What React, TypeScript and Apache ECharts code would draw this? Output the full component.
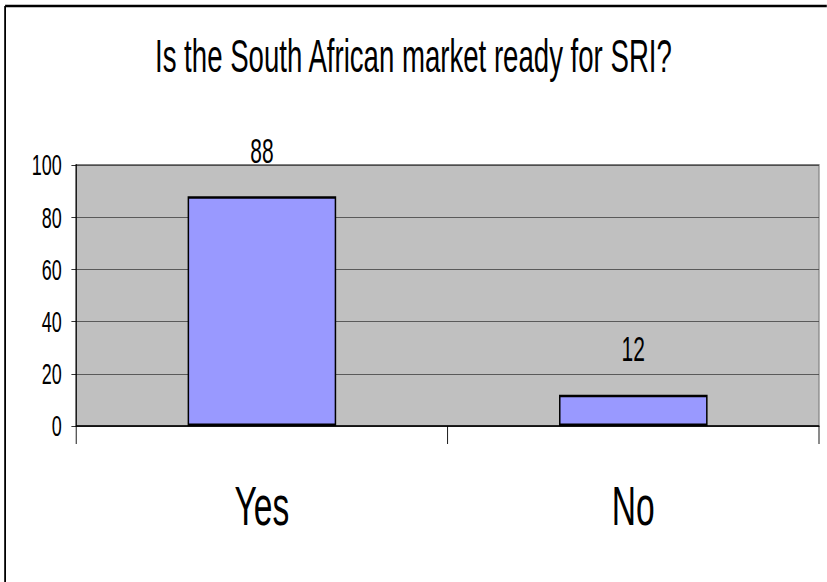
import React, { useEffect, useRef } from "react";
import * as echarts from "echarts";

const titleText = "Is the South African market ready for SRI?";
const categories = ["Yes", "No"];
const values = [88, 12];
const yMin = 0;
const yMax = 100;
const yInterval = 20;

const SX = 0.6; // horizontal squash of the reference picture
const W = 827;
const H = 582;
const FONT = "Liberation Sans, Arial, sans-serif";

export default function App() {
  const ref = useRef<HTMLDivElement | null>(null);

  useEffect(() => {
    document.body.style.margin = "0";
    if (!ref.current) return;
    const chart = echarts.init(ref.current, undefined, { renderer: "svg" });
    chart.setOption({
      animation: false,
      backgroundColor: "#ffffff",
      title: {
        text: titleText,
        left: "center",
        top: 28,
        textStyle: { fontFamily: FONT, fontSize: 46, fontWeight: "normal", color: "#000" },
      },
      graphic: [
        {
          type: "line",
          shape: { x1: 8.5, y1: 6, x2: 1600, y2: 6 },
          style: { stroke: "#000", lineWidth: 2.5 },
          silent: true,
        },
        {
          type: "line",
          shape: { x1: 8.5, y1: 6, x2: 8.5, y2: 700 },
          style: { stroke: "#000", lineWidth: 3 },
          silent: true,
        },
      ],
      grid: {
        left: 127,
        right: 13,
        top: 165,
        bottom: 156,
        show: true,
        backgroundColor: "#C0C0C0",
        borderColor: "#808080",
        borderWidth: 2,
      },
      xAxis: {
        type: "category",
        data: categories,
        boundaryGap: true,
        axisLine: { show: true, lineStyle: { color: "#000", width: 1.5 } },
        axisTick: { show: true, length: 18, lineStyle: { color: "#000", width: 1.5 } },
        axisLabel: {
          margin: 52,
          fontFamily: FONT,
          fontSize: 56,
          color: "#000",
        },
        splitLine: { show: false },
      },
      yAxis: {
        type: "value",
        min: yMin,
        max: yMax,
        interval: yInterval,
        axisLine: { show: true, lineStyle: { color: "#000", width: 2 } },
        axisTick: { show: true, length: 8, lineStyle: { color: "#000", width: 1 } },
        axisLabel: {
          margin: 24,
          fontFamily: FONT,
          fontSize: 30,
          color: "#000",
        },
        splitLine: { show: true, lineStyle: { color: "#404040", width: 1 } },
      },
      series: [
        {
          type: "bar",
          data: values,
          barWidth: "40%",
          itemStyle: { color: "#9999FF", borderColor: "#000", borderWidth: 2.5 },
          label: {
            show: true,
            position: "top",
            distance: 28,
            fontFamily: FONT,
            fontSize: 35,
            color: "#000",
          },
          emphasis: { disabled: true },
        },
      ],
    });
    return () => chart.dispose();
  }, []);

  return (
    <div
      style={{
        position: "absolute",
        left: 0,
        top: 0,
        width: W,
        height: H,
        overflow: "hidden",
        background: "#fff",
      }}
    >
      <div
        ref={ref}
        style={{
          width: W / SX,
          height: H,
          transform: `scaleX(${SX})`,
          transformOrigin: "0 0",
        }}
      />
    </div>
  );
}
